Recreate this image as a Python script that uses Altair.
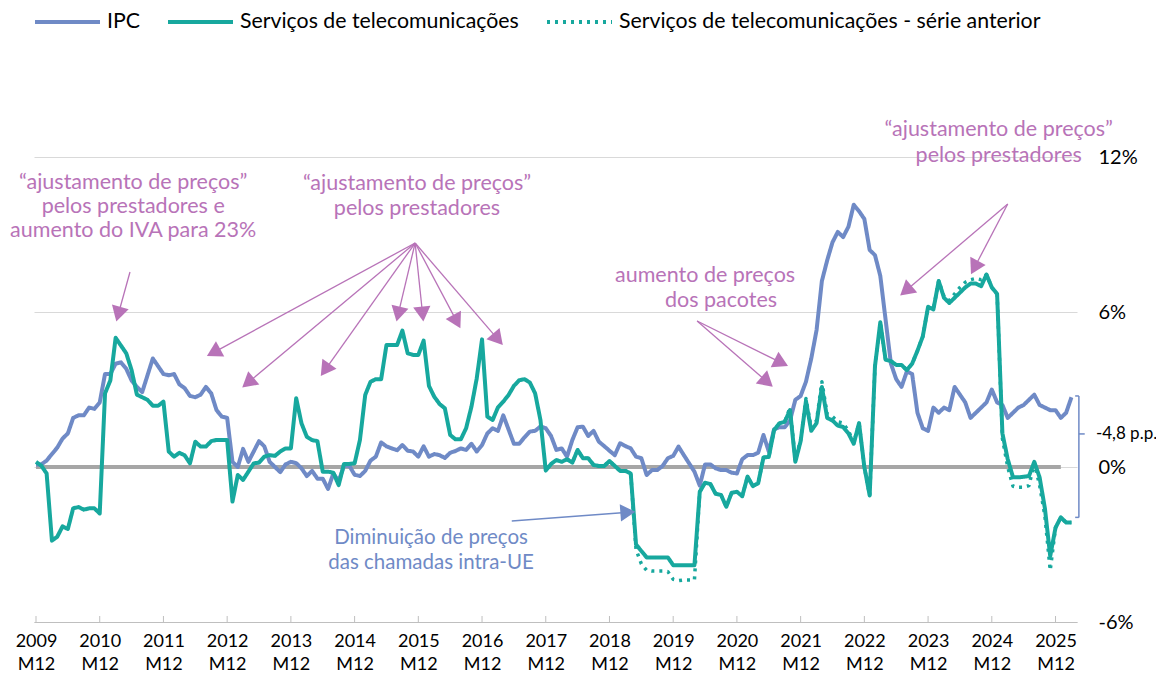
import math
import altair as alt
import pandas as pd

# ---------------- data (monthly, index 0 = 2009 M12) ----------------
NAMES = ["IPC", "Serviços de telecomunicações", "Serviços de telecomunicações - série anterior"]

ipc = [
    0.1,
    0.1, 0.25, 0.5, 0.75, 1.1, 1.3, 1.9, 2.0, 2.0, 2.3, 2.25, 2.5,
    3.6, 3.6, 4.0, 4.05, 3.8, 3.35, 3.1, 2.9, 3.55, 4.2, 3.9, 3.6,
    3.55, 3.6, 3.2, 3.05, 2.75, 2.7, 2.8, 3.1, 2.85, 2.2, 1.95, 1.9,
    0.2, 0.0, 0.7, 0.2, 0.6, 1.0, 0.8, 0.2, 0.0, -0.2, 0.1, 0.2,
    0.15, -0.05, -0.35, -0.15, -0.45, -0.45, -0.85, -0.25, -0.55, 0.05, 0.05, -0.3,
    -0.35, -0.15, 0.25, 0.4, 0.95, 0.8, 0.72, 0.65, 0.85, 0.63, 0.6, 0.4,
    0.8, 0.4, 0.5, 0.46, 0.35, 0.55, 0.62, 0.72, 0.66, 0.9, 0.6, 0.85,
    1.3, 1.5, 1.4, 2.0, 1.45, 0.9, 0.9, 1.15, 1.37, 1.4, 1.57, 1.5,
    1.2, 0.66, 0.72, 0.4, 1.04, 1.54, 1.56, 1.2, 1.4, 0.98, 0.81, 0.63,
    0.46, 0.92, 0.81, 0.72, 0.4, 0.34, -0.31, -0.12, -0.12, 0.04, 0.34, 0.43,
    0.79, 0.46, 0.14, -0.18, -0.72, 0.1, 0.1, -0.05, -0.12, -0.12, -0.22, -0.25,
    0.3, 0.46, 0.46, 0.55, 1.24, 0.6, 1.46, 1.54, 1.54, 1.8, 2.6, 2.75,
    3.3, 4.2, 5.3, 7.2, 8.0, 8.7, 9.1, 8.9, 9.3, 10.15, 9.9, 9.6,
    8.4, 8.2, 7.4, 5.7, 4.0, 3.4, 3.1, 3.7, 3.6, 2.1, 1.5, 1.4,
    2.3, 2.1, 2.3, 2.2, 3.1, 2.8, 2.5, 1.9, 2.1, 2.3, 2.5, 3.0,
    2.5, 2.4, 1.9, 2.1, 2.3, 2.4, 2.6, 2.8, 2.4, 2.3, 2.2, 2.2,
    1.9, 2.1, 2.7,
]

telecom = [
    0.2,
    0.05, -0.25, -2.85, -2.7, -2.3, -2.4, -1.6, -1.55, -1.65, -1.6, -1.6, -1.8,
    2.85, 3.35, 5.0, 4.7, 4.4, 3.75, 2.8, 2.7, 2.6, 2.37, 2.37, 2.53,
    0.6, 0.4, 0.55, 0.45, 0.14, 0.98, 0.79, 0.79, 1.0, 1.05, 1.05, 1.05,
    -1.34, -0.31, -0.5, -0.18, 0.14, 0.17, 0.4, 0.46, 0.43, 0.6, 0.72, 0.72,
    2.66, 1.69, 1.17, 1.04, 1.0, -0.18, -0.18, -0.22, -0.7, 0.12, 0.12, 0.14,
    1.04, 2.79, 3.3, 3.4, 3.4, 4.72, 4.72, 4.72, 5.28, 4.4, 4.34, 4.34,
    4.89, 3.14, 2.72, 2.44, 2.27, 1.24, 1.07, 1.07, 1.5, 2.33, 3.43, 4.94,
    1.95, 1.82, 2.31, 2.53, 2.79, 3.14, 3.36, 3.4, 3.27, 2.85, 1.82, -0.14,
    0.12, 0.27, 0.2, 0.3, 0.17, 0.66, 0.34, 0.34, 0.08, 0.04, 0.04, 0.23,
    0.04, -0.15, -0.15, -0.25, -3.0, -3.25, -3.5, -3.5, -3.5, -3.5, -3.5, -3.8,
    -3.8, -3.8, -3.8, -3.8, -0.96, -0.61, -0.66, -1.04, -1.08, -1.54, -1.0, -0.96,
    -1.13, -0.37, -0.74, -0.63, 0.37, 0.39, 1.43, 1.69, 1.75, 2.2, 0.2, 1.0,
    2.55, 1.4, 1.7, 3.1, 1.9, 1.8, 1.6, 1.55, 1.3, 0.9, 1.7, 0.0,
    -1.1, 3.9, 5.6, 4.15, 4.1, 3.95, 3.95, 3.75, 4.0, 4.5, 5.05, 6.2,
    6.1, 7.2, 6.55, 6.35, 6.55, 6.75, 6.95, 7.1, 7.1, 7.0, 7.45, 6.95,
    6.7, 1.3, 0.3, -0.4, -0.4, -0.38, -0.35, 0.2, -0.4, -1.6, -3.45, -2.35,
    -1.95, -2.15, -2.15,
]

anterior_start = 100  # 2018 M4
anterior = [
    0.3, 0.17, 0.66, 0.34, 0.34, 0.08, 0.04, 0.04, 0.23,
    0.04, -0.15, -0.15, -0.25, -3.2, -3.75, -4.0, -4.03, -4.03, -4.03, -4.05, -4.35,
    -4.4, -4.37, -4.37, -4.37, -0.96, -0.61, -0.66, -1.04, -1.08, -1.54, -1.0, -0.96,
    -1.13, -0.37, -0.74, -0.63, 0.37, 0.39, 1.43, 1.69, 1.75, 2.3, 0.25, 1.05,
    2.65, 1.5, 1.8, 3.3, 2.05, 1.95, 1.75, 1.7, 1.4, 0.95, 1.7, 0.0,
    -1.1, 3.9, 5.6, 4.15, 4.1, 3.95, 3.95, 3.75, 4.0, 4.5, 5.05, 6.2,
    6.1, 7.2, 6.6, 6.45, 6.7, 6.95, 7.15, 7.25, 7.3, 7.25, 7.45, 6.95,
    6.7, 1.1, 0.0, -0.75, -0.78, -0.78, -0.72, 0.15, -0.7, -1.9, -4.0, -2.35,
    -1.95, -2.15, -2.15,
]

tick_months = list(range(0, 193, 12))
y_ticks = [-6, 0, 6, 12]
zero_line = {"x": [0], "x2": [193], "y": [0]}

# annotations (month index, % value)
purple_texts = [
    ("“ajustamento de preços”", 18.3, 10.99), ("pelos prestadores e", 18.3, 10.06),
    ("aumento do IVA para 23%", 18.3, 9.13),
    ("“ajustamento de preços”", 71.75, 10.95), ("pelos prestadores", 71.75, 9.99),
    ("aumento de preços", 126.0, 7.39), ("dos pacotes", 129.0, 6.43),
    ("“ajustamento de preços”", 181.3, 13.03), ("pelos prestadores", 181.3, 12.04),
]
blue_texts = [("Diminuição de preços", 74.4, -2.75), ("das chamadas intra-UE", 74.4, -3.72)]
# arrows: (origin month, origin value, tip month, tip value)
purple_arrows = [
    (17.7, 7.55, 15.25, 5.73),
    (71.4, 8.67, 32.6, 4.34), (71.4, 8.67, 39.2, 3.14), (71.4, 8.67, 53.9, 3.60),
    (71.4, 8.67, 68.0, 5.73), (71.4, 8.67, 72.9, 5.73), (71.4, 8.67, 79.7, 5.46),
    (71.4, 8.67, 87.6, 4.80),
    (124.5, 5.65, 141.2, 3.95), (124.5, 5.65, 138.4, 3.17),
    (183.0, 10.18, 163.1, 6.70), (183.0, 10.18, 176.3, 7.55),
]
blue_arrows = [(89.6, -2.09, 112.4, -1.74)]
gap_label = ("-4,8 p.p.", 199.6, 1.28)
bracket = {"x": [195.7, 196.4, 195.7, 196.4], "x2": [196.4, 196.4, 196.4, 197.5],
           "y": [2.75, 2.75, -1.95, gap_label[2]], "y2": [2.75, -1.95, -1.95, gap_label[2]]}

# ---------------- layout ----------------
PAD_TOP = 30
W, H = 1043, 584
PX_MONTH = 5.31
PX_PCT = 465 / 18
x0 = -2 / PX_MONTH
X_DOM = [x0, x0 + W / PX_MONTH]
Y_DOM = [-6, -6 + H / PX_PCT]
TICK_LEN = 6 / PX_PCT

BLUE = "#6F8AC6"
TEAL = "#17A89E"
PURPLE = "#B873B8"
AXIS_GREY = "#BFBFBF"
FONT = "Lato"

xs = alt.Scale(domain=X_DOM, nice=False, zero=False)
ys = alt.Scale(domain=Y_DOM, nice=False, zero=False)
x_axis = alt.Axis(values=tick_months, labelExpr="[toString(2009 + floor(datum.value / 12)), 'M12']",
                  grid=False, domain=True, domainColor=AXIS_GREY, ticks=False,
                  labelFont=FONT, labelFontSize=18, labelColor="black",
                  labelLineHeight=23, labelPadding=10, title=None, labelFlush=False,
                  labelOverlap=False, labelBaseline="top")
y_axis = alt.Axis(orient="right", values=y_ticks, labelExpr="datum.value + '%'", grid=True,
                  gridColor="#D9D9D9", gridWidth=1, domain=False, ticks=False, labelPadding=21,
                  labelFont=FONT, labelFontSize=20, labelColor="black", title=None)


def X(f="x"):
    return alt.X(f"{f}:Q", scale=xs, axis=x_axis)


def Y(f="y"):
    return alt.Y(f"{f}:Q", scale=ys, axis=y_axis)


rows = []
for i, v in enumerate(ipc):
    rows.append({"x": i, "y": v, "serie": NAMES[0]})
for i, v in enumerate(telecom):
    rows.append({"x": i, "y": v, "serie": NAMES[1]})
for i, v in enumerate(anterior):
    rows.append({"x": anterior_start + i, "y": v, "serie": NAMES[2]})
df = pd.DataFrame(rows)

SYM = 4225
legend = alt.Legend(orient="none", legendX=-1, legendY=22 - (8 + PAD_TOP) - 34.5,
                    direction="horizontal", title=None,
                    symbolType="stroke", symbolSize=SYM, symbolStrokeWidth=4,
                    labelFont=FONT, labelFontSize=21.3, labelColor="black", columnPadding=20,
                    labelOffset=5, padding=0, labelLimit=0, columns=3)
cscale = alt.Scale(domain=NAMES, range=[BLUE, TEAL, TEAL])
dscale = alt.Scale(domain=NAMES, range=[[1, 0], [1, 0], [3, 5]])


def series(name, width):
    return alt.Chart(df).transform_filter(alt.datum.serie == name).mark_line(
        strokeWidth=width, strokeJoin="round").encode(
        x=X(), y=Y(),
        color=alt.Color("serie:N", scale=cscale, legend=legend),
        strokeDash=alt.StrokeDash("serie:N", scale=dscale, legend=legend),
    )


zero = alt.Chart(pd.DataFrame(zero_line)).mark_rule(color="#A6A6A6", strokeWidth=4).encode(
    x=X(), x2="x2:Q", y=Y())

ticks_df = pd.DataFrame({"x": tick_months, "y": [-6] * len(tick_months),
                         "y2": [-6 + TICK_LEN] * len(tick_months)})
xticks = alt.Chart(ticks_df).mark_rule(color=AXIS_GREY, strokeWidth=1).encode(
    x=X(), y=Y(), y2="y2:Q")


def arrows(spec, color, size=300):
    shafts, heads = [], []
    r = math.sqrt(size) / 2
    h = math.sqrt(3) * r / 2
    for (ax, ay, bx, by) in spec:
        dx = (bx - ax) * PX_MONTH
        dy = -(by - ay) * PX_PCT
        L = math.hypot(dx, dy)
        ux, uy = dx / L, dy / L
        ang = math.degrees(math.atan2(ux, -uy)) % 360
        cx = bx - h * ux / PX_MONTH
        cy = by + h * uy / PX_PCT
        shafts.append({"x": ax, "y": ay, "x2": cx, "y2": cy})
        heads.append({"x": cx, "y": cy, "a": ang})
    s = alt.Chart(pd.DataFrame(shafts)).mark_rule(color=color, strokeWidth=1.3).encode(
        x=X(), y=Y(), x2="x2:Q", y2="y2:Q")
    hd = alt.Chart(pd.DataFrame(heads)).mark_point(shape="triangle", filled=True, opacity=1,
                                                  color=color, size=size, strokeWidth=0).encode(
        x=X(), y=Y(), angle=alt.Angle("a:Q", scale=None))
    return s + hd


def texts(spec, color, size=20, align="center"):
    d = pd.DataFrame([{"t": t, "x": x, "y": y} for (t, x, y) in spec])
    return alt.Chart(d).mark_text(font=FONT, fontSize=size, color=color, align=align,
                                  baseline="middle").encode(x=X(), y=Y(), text="t:N")


br = alt.Chart(pd.DataFrame(bracket)).mark_rule(color=BLUE, strokeWidth=1.5).encode(
    x=X(), x2="x2:Q", y=Y(), y2="y2:Q")

chart = alt.layer(
    zero,
    xticks,
    series(NAMES[0], 4),
    series(NAMES[1], 4),
    series(NAMES[2], 3.5),
    arrows(purple_arrows, PURPLE),
    arrows(blue_arrows, BLUE),
    texts(purple_texts, PURPLE, size=21.5),
    texts(blue_texts, BLUE, size=20.5),
    texts([gap_label], "black", size=17, align="left"),
    br,
).properties(
    width=W, height=H,
    padding={"left": 26, "top": PAD_TOP, "right": 79, "bottom": 54},
    autosize=alt.AutoSizeParams(type="none"),
    background="white",
).configure_view(stroke=None)

chart.save("out.html", embed_options={"renderer": "svg", "actions": False})
